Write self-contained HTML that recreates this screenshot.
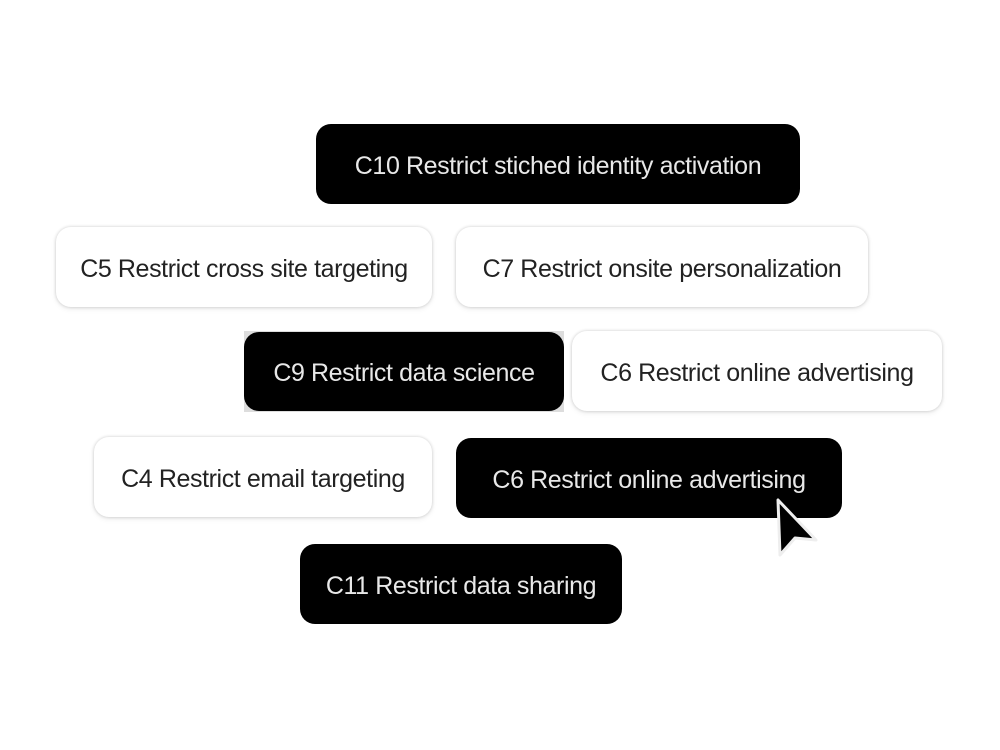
<!DOCTYPE html>
<html><head><style>
html,body{margin:0;padding:0;background:#fff;}
body{width:1000px;height:750px;position:relative;overflow:hidden;font-family:"Liberation Sans",sans-serif;}
.p{position:absolute;height:80px;border-radius:15px;display:flex;align-items:center;justify-content:center;font-size:25px;letter-spacing:-0.4px;box-sizing:border-box;white-space:nowrap;padding-top:4px;}
.b{background:#000;color:#e8e8e8;}
.w{background:#fff;color:#222;box-shadow:0 0 3px rgba(0,0,0,0.18),0 2px 6px rgba(0,0,0,0.08);}
</style></head><body>
<div class="p b" style="left:316px;top:124px;width:484px;">C10 Restrict stiched identity activation</div>
<div class="p w" style="left:56px;top:227px;width:376px;">C5 Restrict cross site targeting</div>
<div class="p w" style="left:456px;top:227px;width:412px;">C7 Restrict onsite personalization</div>
<div style="position:absolute;left:244px;top:331px;width:320px;height:81px;background:#ddd;"></div>
<div class="p b" style="left:244px;top:332px;width:320px;height:79px;">C9 Restrict data science</div>
<div class="p w" style="left:572px;top:331px;width:370px;">C6 Restrict online advertising</div>
<div class="p w" style="left:94px;top:437px;width:338px;">C4 Restrict email targeting</div>
<div class="p b" style="left:456px;top:438px;width:386px;">C6 Restrict online advertising</div>
<div class="p b" style="left:300px;top:544px;width:322px;">C11 Restrict data sharing</div>
<svg style="position:absolute;left:0;top:0" width="1000" height="750">
<path d="M778 500 L780 555 L795 538 L816 540 Z" fill="#000" stroke="#eee" stroke-width="3" stroke-linejoin="round"/>
</svg>
</body></html>
